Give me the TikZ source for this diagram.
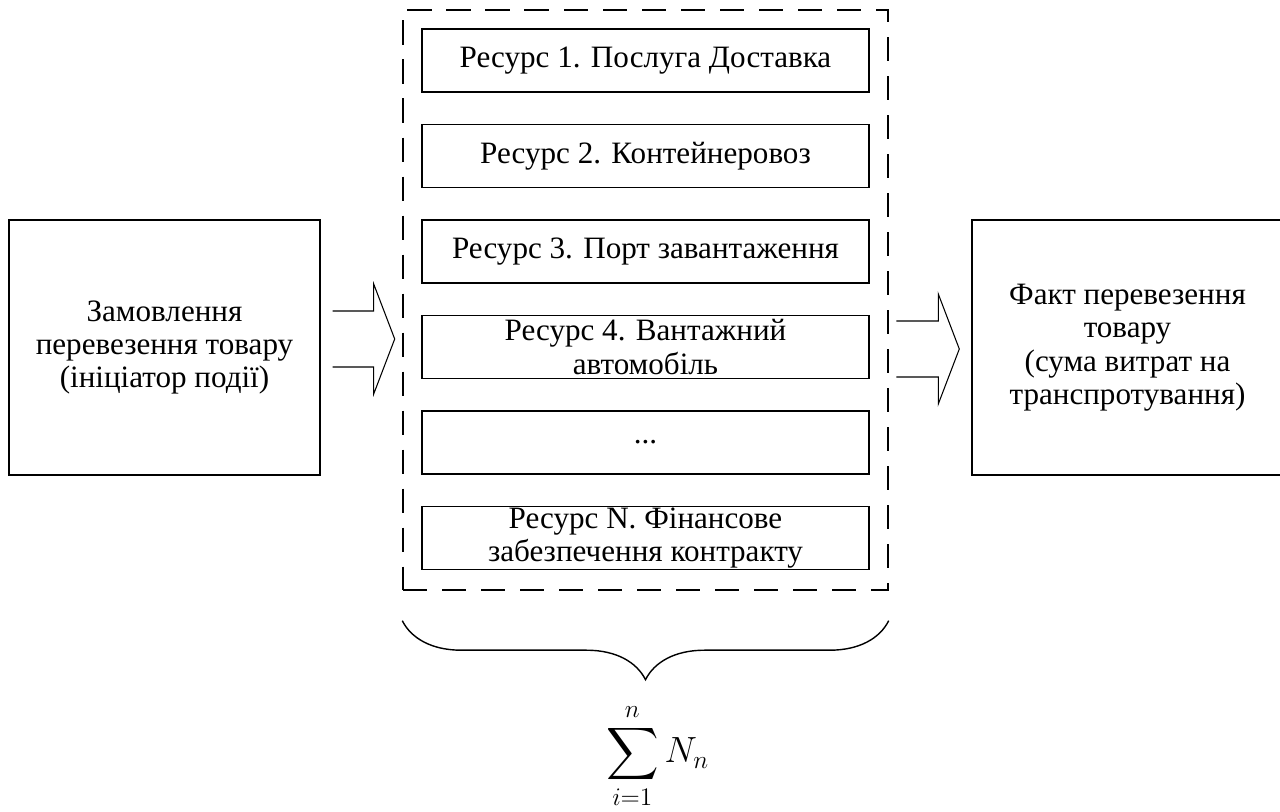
\documentclass[tikz,border=0pt]{standalone}
\usepackage{amsmath}
\usepackage{exscale}
\usepackage{fontspec}
\setmainfont{Liberation Serif}
\usetikzlibrary{decorations.pathreplacing}

\begin{document}
\begin{tikzpicture}[line width=0.8pt,
      every node/.style={font=\fontsize{17.7}{19}\selectfont},
      resbox/.style={draw,minimum width=8.94cm,minimum height=1.26cm,inner sep=0pt,align=center},
      sidebox/.style={draw,minimum width=6.22cm,minimum height=5.1cm,align=center}]
      \useasboundingbox (0,0) rectangle (25.6,16.22);
      \node[draw,dash pattern=on 13.7pt off 8.5pt,minimum width=9.7cm,minimum height=11.6cm] (pool) at (12.91,10.22) {};
      \node[resbox] (res1) at (12.91,15.01) {Ресурс 1. Послуга Доставка};
      \node[resbox] (res2) at (12.91,13.10) {Ресурс 2. Контейнеровоз};
      \node[resbox] (res3) at (12.91,11.19) {Ресурс 3. Порт завантаження};
      \node[resbox] (res4) at (12.91,9.28) {Ресурс 4. Вантажний\\автомобіль};
      \node[resbox] (res5) at (12.91,7.37) {...};
      \node[resbox] (resN) at (12.91,5.46) {Ресурс N. Фінансове\\забезпечення контракту};
      \node[sidebox] (order) at (3.29,9.27) {Замовлення\\перевезення товару\\(ініціатор події)};
      \node[sidebox] (fact) at (22.55,9.27) {Факт перевезення\\товару\\(сума витрат на\\транспротування)};
      \draw[line width=0.6pt] ([shift={(0.24,0.73)}]order.east) -- ++(0.82,0) -- ++(0,0.54) -- ++(0.42,-1.1) -- ++(-0.42,-1.1) -- ++(0,0.54) -- ++(-0.82,0);
      \draw[line width=0.6pt] ([shift={(-1.5,0.53)}]fact.west) -- ++(0.84,0) -- ++(0,0.54) -- ++(0.42,-1.1) -- ++(-0.42,-1.1) -- ++(0,0.54) -- ++(-0.84,0);
      \draw[decorate,decoration={brace,amplitude=1.18cm}] ([yshift=-0.6cm]pool.south east) -- ([yshift=-0.6cm]pool.south west);
      \node[font=\fontsize{20}{24}\selectfont,inner sep=0pt] (total) at (13.15,1.1) {$\displaystyle\sum_{i=1}^{n}N_n$};
\end{tikzpicture}
\end{document}
